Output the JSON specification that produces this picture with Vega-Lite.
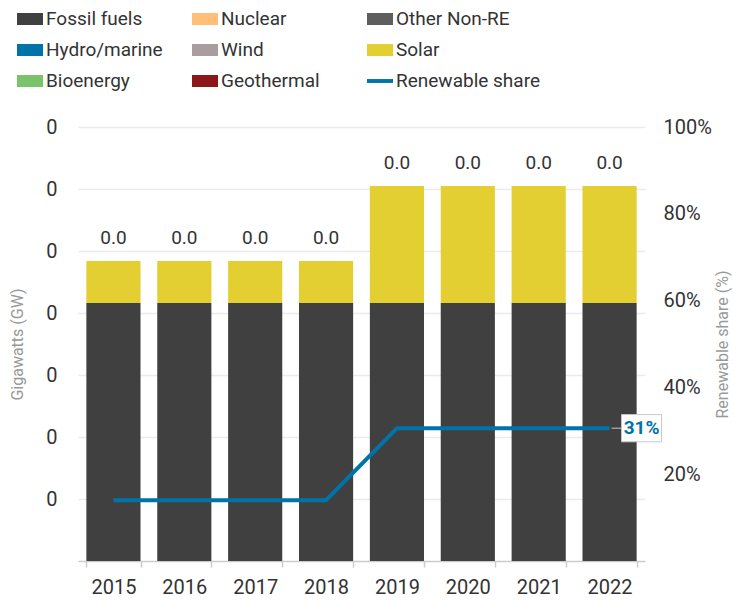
{
  "$schema": "https://vega.github.io/schema/vega-lite/v6.json",
  "width": 567,
  "height": 434,
  "autosize": {"type": "none"},
  "padding": {"left": 78, "top": 127, "right": 88, "bottom": 42},
  "background": "white",
  "config": {
    "font": "Roboto",
    "view": {"stroke": null},
    "axis": {"labelColor": "#333333", "titleColor": "#999999", "titleFontWeight": "normal", "labelFont": "Roboto", "titleFont": "Roboto"},
    "legend": {"labelFont": "Roboto"}
  },
  "datasets": {
    "cap": [
      {"year": "2015", "source": "Fossil fuels", "value": 0.0208},
      {"year": "2015", "source": "Solar", "value": 0.0034},
      {"year": "2016", "source": "Fossil fuels", "value": 0.0208},
      {"year": "2016", "source": "Solar", "value": 0.0034},
      {"year": "2017", "source": "Fossil fuels", "value": 0.0208},
      {"year": "2017", "source": "Solar", "value": 0.0034},
      {"year": "2018", "source": "Fossil fuels", "value": 0.0208},
      {"year": "2018", "source": "Solar", "value": 0.0034},
      {"year": "2019", "source": "Fossil fuels", "value": 0.0208},
      {"year": "2019", "source": "Solar", "value": 0.00945},
      {"year": "2020", "source": "Fossil fuels", "value": 0.0208},
      {"year": "2020", "source": "Solar", "value": 0.00945},
      {"year": "2021", "source": "Fossil fuels", "value": 0.0208},
      {"year": "2021", "source": "Solar", "value": 0.00945},
      {"year": "2022", "source": "Fossil fuels", "value": 0.0208},
      {"year": "2022", "source": "Solar", "value": 0.00945}
    ],
    "share": [
      {"year": "2015", "share": 0.14},
      {"year": "2016", "share": 0.14},
      {"year": "2017", "share": 0.14},
      {"year": "2018", "share": 0.14},
      {"year": "2019", "share": 0.306},
      {"year": "2020", "share": 0.306},
      {"year": "2021", "share": 0.306},
      {"year": "2022", "share": 0.306}
    ]
  },
  "encoding": {
    "x": {
      "field": "year",
      "type": "ordinal",
      "scale": {"paddingInner": 0.236, "paddingOuter": 0.118},
      "axis": {
        "title": null,
        "labelAngle": 0,
        "labelFontSize": 20,
        "labelPadding": 10,
        "domainColor": "#cccccc",
        "domainWidth": 1.5,
        "tickColor": "#cccccc",
        "tickWidth": 1.5,
        "tickSize": 6,
        "tickBand": "extent"
      }
    }
  },
  "layer": [
    {
      "data": {"name": "cap"},
      "layer": [
        {
          "mark": {"type": "bar"},
          "encoding": {
            "y": {
              "field": "value",
              "type": "quantitative",
              "stack": "zero",
              "scale": {"domain": [0, 0.035], "nice": false},
              "axis": {
                "orient": "left",
                "title": "Gigawatts (GW)",
                "titleFontSize": 16,
                "titlePadding": 20,
                "values": [0.005, 0.01, 0.015, 0.02, 0.025, 0.03, 0.035],
                "format": ".0f",
                "labelFontSize": 20,
                "labelPadding": 21,
                "ticks": false,
                "domain": false,
                "grid": true,
                "gridColor": "#ebebeb",
                "gridWidth": 1.5
              }
            },
            "color": {
              "field": "source",
              "type": "nominal",
              "scale": {
                "domain": ["Fossil fuels", "Nuclear", "Other Non-RE", "Hydro/marine", "Wind", "Solar", "Bioenergy", "Geothermal", "Renewable share"],
                "range": ["#404040", "#ffbf78", "#5e5e5e", "#0073a9", "#aa9d9f", "#e3cf32", "#79c36a", "#8c1619", "#0073a9"]
              },
              "legend": {
                "title": null,
                "orient": "none",
                "legendX": -61,
                "legendY": -121,
                "direction": "horizontal",
                "columns": 3,
                "gridAlign": "all",
                "columnPadding": 2,
                "rowPadding": 8,
                "labelFontSize": 19,
                "labelColor": "#333333",
                "labelOffset": 3,
                "symbolSize": 676,
                "symbolStrokeWidth": 0,
                "symbolType": "M-1,-0.46H1V0.46H-1Z",
                "symbolOpacity": 1,
                "labelLimit": 300,
                "encode": {
                  "symbols": {
                    "update": {
                      "shape": {"signal": "datum.label === 'Renewable share' ? 'M-1,-0.15H1V0.15H-1Z' : 'M-1,-0.46H1V0.46H-1Z'"}
                    }
                  }
                }
              }
            },
            "order": {"field": "source", "sort": "ascending"}
          }
        },
        {
          "transform": [
            {"aggregate": [{"op": "sum", "field": "value", "as": "total"}], "groupby": ["year"]}
          ],
          "mark": {"type": "text", "baseline": "alphabetic", "dy": -17, "fontSize": 19, "color": "#333333"},
          "encoding": {
            "y": {"field": "total", "type": "quantitative"},
            "text": {"field": "total", "type": "quantitative", "format": ".1f"}
          }
        }
      ]
    },
    {
      "data": {"name": "share"},
      "layer": [
        {
          "mark": {"type": "line", "strokeWidth": 4},
          "encoding": {
            "y": {
              "field": "share",
              "type": "quantitative",
              "scale": {"domain": [0, 1], "nice": false},
              "axis": {
                "orient": "right",
                "title": "Renewable share (%)",
                "titleFontSize": 16,
                "titleAngle": 270,
                "titleBaseline": "top",
                "titlePadding": 3,
                "values": [0.2, 0.4, 0.6, 0.8, 1],
                "format": ".0%",
                "labelFontSize": 20,
                "labelPadding": 18,
                "ticks": false,
                "domain": false,
                "grid": false
              }
            },
            "color": {"datum": "Renewable share"}
          }
        },
        {
          "transform": [{"filter": "datum.year === '2022'"}],
          "mark": {"type": "point", "filled": false, "fill": "white", "fillOpacity": 1, "stroke": "#c8c8c8", "strokeWidth": 1, "opacity": 1, "shape": "M0.1,0L0.6,0M0.6,-0.68H2.6V0.68H0.6Z", "size": 1600},
          "encoding": {
            "y": {"field": "share", "type": "quantitative"}
          }
        },
        {
          "transform": [{"filter": "datum.year === '2022'"}],
          "mark": {"type": "text", "fontSize": 19, "fontWeight": "bold", "color": "#0073a9", "dx": 32, "baseline": "middle"},
          "encoding": {
            "y": {"field": "share", "type": "quantitative"},
            "text": {"field": "share", "type": "quantitative", "format": ".0%"}
          }
        }
      ]
    }
  ],
  "resolve": {"scale": {"y": "independent"}}
}
